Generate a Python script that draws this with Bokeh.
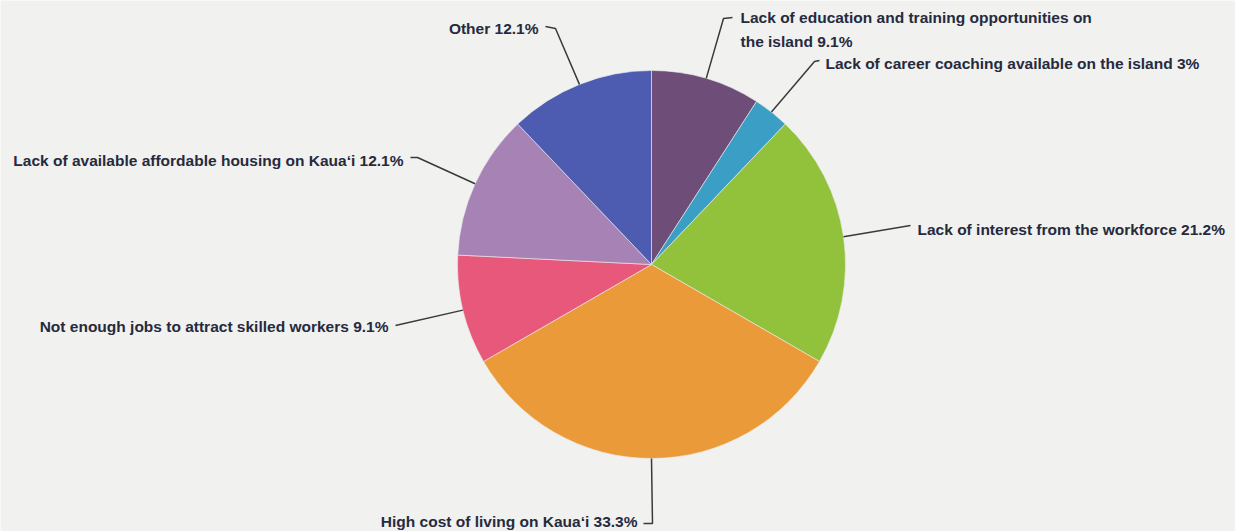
import math
from bokeh.plotting import figure
from bokeh.models import Range1d, ColumnDataSource
from bokeh.embed import file_html
from bokeh.resources import INLINE

# ---- data ----
labels = [
    "Lack of education and training opportunities on\nthe island 9.1%",
    "Lack of career coaching available on the island 3%",
    "Lack of interest from the workforce 21.2%",
    "High cost of living on Kaua\u02bbi 33.3%",
    "Not enough jobs to attract skilled workers 9.1%",
    "Lack of available affordable housing on Kaua\u02bbi 12.1%",
    "Other 12.1%",
]
values = [9.1, 3.0, 21.2, 33.3, 9.1, 12.1, 12.1]
colors = ["#6e4e78", "#3b9ec4", "#92c13c", "#eb9a3a", "#e8587a", "#a783b5", "#4d5bb0"]

# ---- layout (reference pixel coordinates) ----
W, H = 1235, 531
CX, CY, R = 651, 264, 194
# text anchor x, y, alignment
text_pos = [(740, 29, "left"), (825, 63, "left"), (917, 229, "left"),
            (637, 521, "right"), (388, 326, "right"), (403, 160, "right"),
            (538, 28, "right")]
# leader elbow and tick end
leader_pts = [((723, 18), (732, 17)), ((814, 61), (819, 60)), ((910, 225), (910, 225)),
              ((652, 523), (643, 523)), ((395, 325), (395, 325)), ((417, 157), (410, 157)),
              ((555, 28), (545, 26))]

BG = "#f1f1ef"


def yd(ypix):
    return H - ypix


def xd(xpix):
    return xpix


p = figure(width=W, height=H, output_backend="svg", toolbar_location=None,
           x_range=Range1d(0, W), y_range=Range1d(0, H),
           min_border=0, background_fill_color=BG, border_fill_color=BG)
p.axis.visible = False
p.grid.visible = False
p.outline_line_color = None

total = sum(values)
starts, ends, mids = [], [], []
acc = 0.0
for v in values:
    f0 = acc / total
    acc += v
    f1 = acc / total
    starts.append(math.pi / 2 - 2 * math.pi * f0)
    ends.append(math.pi / 2 - 2 * math.pi * f1)
    mids.append(math.pi / 2 - 2 * math.pi * (f0 + f1) / 2)

src = ColumnDataSource(dict(start=starts, end=ends, color=colors))
p.wedge(x=xd(CX), y=yd(CY), radius=R, start_angle="start", end_angle="end",
        direction="clock", fill_color="color", line_color="#ececec", line_width=0.6,
        source=src)

xs, ys = [], []
for m, (el, tk) in zip(mids, leader_pts):
    ax = CX + R * math.cos(m)
    ay = CY - R * math.sin(m)
    xs.append([xd(ax), xd(el[0]), xd(tk[0])])
    ys.append([yd(ay), yd(el[1]), yd(tk[1])])
p.multi_line(xs=xs, ys=ys, line_color="#3a3a3a", line_width=1.5)

tsrc = ColumnDataSource(dict(
    x=[xd(t[0]) for t in text_pos], y=[yd(t[1]) for t in text_pos],
    align=[t[2] for t in text_pos], text=labels))
p.text(x="x", y="y", text="text", text_align="align", text_baseline="middle",
       text_font={"value": "Liberation Sans"}, text_font_size="15.5px",
       text_font_style="bold", text_color="#262a3e", text_line_height=1.4,
       source=tsrc)

html = file_html(p, INLINE)
html = html.replace("<body>", '<body style="background:%s; margin:0">' % BG, 1)
open("out.html", "w").write(html)
